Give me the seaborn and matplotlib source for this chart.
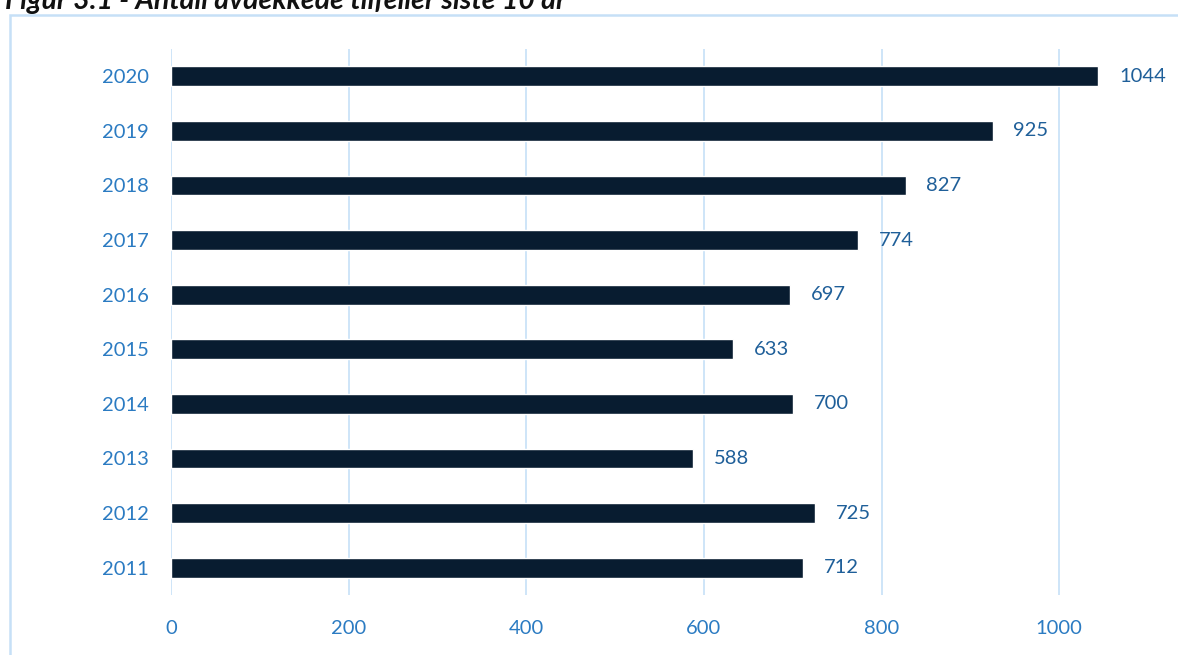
import matplotlib
matplotlib.use("Agg")
import matplotlib.pyplot as plt
import seaborn as sns
import pandas as pd
from matplotlib.patches import Rectangle

years = ["2020", "2019", "2018", "2017", "2016", "2015", "2014", "2013", "2012", "2011"]
cases = [1044, 925, 827, 774, 697, 633, 700, 588, 725, 712]
xticks = [0, 200, 400, 600, 800, 1000]
title = "Figur 3.1 - Antall avdekkede tilfeller siste 10 år"

df = pd.DataFrame({"year": years, "cases": cases})

sns.set_theme(style="white")
plt.rcParams["font.family"] = ["Lato", "DejaVu Sans"]

fig = plt.figure(figsize=(11.78, 6.55), dpi=100)
# outer light-blue frame
fig.patches.append(Rectangle((10 / 1178, -0.1), 1.2, 1 - 15 / 655 + 0.1,
                             transform=fig.transFigure, fill=False,
                             edgecolor="#c6e0f7", linewidth=1.8, zorder=0))
fig.text(0.004, 1 - 9 / 655, title, fontsize=20.5, fontweight="bold", fontstyle="italic",
         color="#111111", va="baseline", ha="left")

ax = fig.add_axes([171 / 1178, 1 - 595 / 655, 977 / 1178, 546 / 655])
sns.barplot(data=df, y="year", x="cases", order=years, color="#081c30",
            width=0.36, orient="h", ax=ax, saturation=1)
ax.set_xlim(0, 1100)
ax.set_xticks(xticks)
ax.set_xlabel("")
ax.set_ylabel("")
for s in ax.spines.values():
    s.set_visible(False)
ax.grid(axis="x", color="#c6e0f7", linewidth=1.2)
ax.set_axisbelow(True)
ax.tick_params(axis="both", length=0, labelsize=14.5, labelcolor="#2b7bc2")
ax.tick_params(axis="y", pad=16)
ax.tick_params(axis="x", pad=18)
for c in ax.containers:
    ax.bar_label(c, labels=[str(v) for v in cases], padding=15, fontsize=14.5, color="#1f5f99")

fig.savefig("out.png", dpi=100)
